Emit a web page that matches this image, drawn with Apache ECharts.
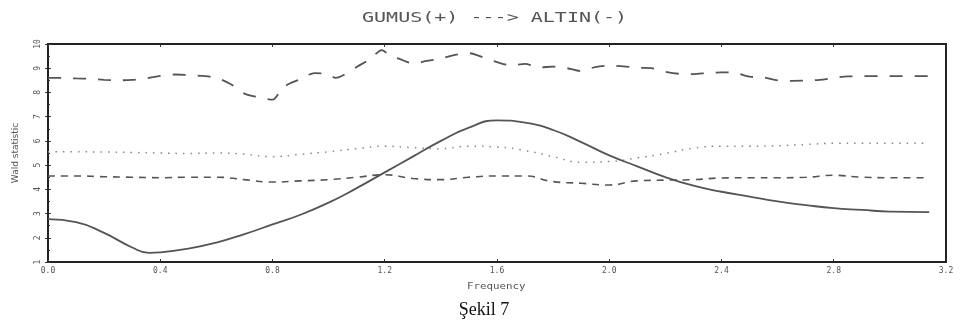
<!DOCTYPE html>
<html>
<head>
<meta charset="utf-8">
<script src="https://cdn.jsdelivr.net/npm/echarts@6/dist/echarts.min.js"></script>
<style>
  html, body { margin: 0; padding: 0; background: #fff; }
  #chart { width: 962px; height: 332px; }
</style>
</head>
<body>
<div id="chart"></div>
<script>
// Wald statistic over frequency, GUMUS -> ALTIN causality test
const xTicks = [0.0, 0.4, 0.8, 1.2, 1.6, 2.0, 2.4, 2.8, 3.2];
const yTicks = [1, 2, 3, 4, 5, 6, 7, 8, 9, 10];

// long-dashed upper band
const freqUpper = [0.00, 0.05, 0.10, 0.15, 0.20, 0.25, 0.30, 0.35, 0.40, 0.45, 0.50, 0.55, 0.60, 0.65, 0.70, 0.75, 0.80, 0.825, 0.85, 0.90, 0.95, 1.00, 1.025, 1.05, 1.10, 1.15, 1.19, 1.22, 1.25, 1.30, 1.35, 1.40, 1.45, 1.50, 1.55, 1.60, 1.65, 1.70, 1.75, 1.80, 1.85, 1.90, 1.95, 2.00, 2.05, 2.10, 2.15, 2.20, 2.25, 2.30, 2.35, 2.40, 2.45, 2.50, 2.55, 2.60, 2.65, 2.70, 2.75, 2.80, 2.85, 2.90, 3.00, 3.14];
const waldUpper = [8.60, 8.60, 8.58, 8.56, 8.52, 8.50, 8.52, 8.58, 8.68, 8.74, 8.72, 8.68, 8.60, 8.35, 7.95, 7.80, 7.70, 8.00, 8.30, 8.55, 8.80, 8.75, 8.60, 8.70, 9.05, 9.40, 9.75, 9.50, 9.40, 9.20, 9.30, 9.40, 9.55, 9.62, 9.45, 9.25, 9.12, 9.18, 9.03, 9.07, 9.00, 8.88, 9.05, 9.10, 9.08, 9.02, 9.00, 8.85, 8.77, 8.76, 8.80, 8.83, 8.80, 8.65, 8.62, 8.50, 8.48, 8.49, 8.52, 8.60, 8.66, 8.67, 8.67, 8.67];

// common frequency grid for the two lower bands
const freq = [0.0, 0.1, 0.2, 0.3, 0.4, 0.5, 0.6, 0.7, 0.8, 0.9, 1.0, 1.1, 1.2, 1.3, 1.4, 1.5, 1.6, 1.7, 1.8, 1.9, 2.0, 2.1, 2.2, 2.3, 2.4, 2.5, 2.6, 2.7, 2.8, 2.9, 3.0, 3.14];
// dotted critical value
const waldDotted = [5.55, 5.55, 5.54, 5.52, 5.50, 5.48, 5.50, 5.45, 5.35, 5.45, 5.55, 5.68, 5.78, 5.72, 5.68, 5.78, 5.75, 5.60, 5.35, 5.12, 5.15, 5.30, 5.48, 5.70, 5.78, 5.78, 5.80, 5.85, 5.90, 5.90, 5.90, 5.90];
// short-dashed critical value
const waldDashed = [4.55, 4.55, 4.52, 4.50, 4.48, 4.50, 4.50, 4.40, 4.30, 4.35, 4.40, 4.50, 4.60, 4.45, 4.40, 4.50, 4.55, 4.55, 4.32, 4.25, 4.18, 4.35, 4.38, 4.40, 4.47, 4.48, 4.48, 4.50, 4.58, 4.50, 4.48, 4.48];
// solid test statistic
const freqStat = [0.00, 0.10, 0.20, 0.30, 0.36, 0.40, 0.50, 0.60, 0.70, 0.80, 0.90, 1.00, 1.10, 1.20, 1.30, 1.40, 1.50, 1.60, 1.70, 1.80, 1.90, 2.00, 2.10, 2.20, 2.30, 2.40, 2.50, 2.60, 2.70, 2.80, 2.90, 3.00, 3.14];
const waldStat = [2.77, 2.65, 2.20, 1.60, 1.38, 1.40, 1.55, 1.80, 2.15, 2.55, 2.95, 3.45, 4.05, 4.70, 5.35, 6.00, 6.55, 6.85, 6.75, 6.45, 5.95, 5.40, 4.95, 4.50, 4.15, 3.90, 3.70, 3.50, 3.35, 3.22, 3.15, 3.08, 3.06];

const zip = (xs, ys) => xs.map((x, i) => [x, ys[i]]);

const chart = echarts.init(document.getElementById('chart'), null, { renderer: 'canvas' });
const tickFont = { fontFamily: 'DejaVu Sans Mono', fontSize: 8, color: '#555' };

chart.setOption({
  animation: false,
  backgroundColor: '#fff',
  graphic: [
    {
      // heading, wide mono lettering
      type: 'text', x: 362, y: 11, scaleX: 1.43,
      style: { text: 'GUMUS(+) ---> ALTIN(-)', font: '14px "DejaVu Sans Mono"', fill: '#555', textVerticalAlign: 'top' }
    },
    {
      type: 'text', x: 467, y: 282, scaleX: 1.2,
      style: { text: 'Frequency', font: '9px "DejaVu Sans Mono"', fill: '#555', textVerticalAlign: 'top' }
    },
    {
      type: 'text', x: 484, y: 301,
      style: { text: 'Şekil 7', font: '18px "Liberation Serif"', fill: '#111', textAlign: 'center', textVerticalAlign: 'top' }
    }
  ],
  grid: {
    left: 48, right: 16, top: 44, bottom: 70,
    show: true, borderColor: '#222', borderWidth: 2, backgroundColor: 'transparent'
  },
  xAxis: [
    {
      type: 'value', min: 0, max: 3.2, interval: 0.4, position: 'bottom',
      axisLine: { show: false },
      axisTick: { show: true, inside: true, length: 3, lineStyle: { color: '#333' } },
      splitLine: { show: false },
      axisLabel: Object.assign({ margin: 5, formatter: v => v.toFixed(1) }, tickFont)
    },
    {
      type: 'value', min: 0, max: 3.2, interval: 0.4, position: 'top',
      axisLine: { show: false },
      axisTick: { show: true, inside: true, length: 3, lineStyle: { color: '#333' } },
      splitLine: { show: false },
      axisLabel: { show: false }
    }
  ],
  yAxis: [
    {
      type: 'value', min: 1, max: 10, interval: 1, position: 'left',
      name: 'Wald statistic', nameLocation: 'middle', nameGap: 28, nameRotate: 90,
      nameTextStyle: { fontFamily: 'DejaVu Sans', fontSize: 9, color: '#555' },
      axisLine: { show: false },
      axisTick: { show: true, inside: true, length: 3, lineStyle: { color: '#333' } },
      minorTick: { show: true, splitNumber: 2, length: 2, lineStyle: { color: '#333' } },
      splitLine: { show: false },
      axisLabel: Object.assign({ margin: 6, rotate: 90 }, tickFont)
    },
    {
      type: 'value', min: 1, max: 10, interval: 1, position: 'right',
      axisLine: { show: false },
      axisTick: { show: true, inside: true, length: 3, lineStyle: { color: '#333' } },
      splitLine: { show: false },
      axisLabel: { show: false }
    }
  ],
  series: [
    {
      type: 'line', data: zip(freqUpper, waldUpper), smooth: 0.3, showSymbol: false,
      lineStyle: { color: '#555', width: 1.8, type: [13, 12] }
    },
    {
      type: 'line', data: zip(freq, waldDotted), smooth: true, showSymbol: false,
      lineStyle: { color: '#888', width: 1.5, type: [1.5, 6] }
    },
    {
      type: 'line', data: zip(freq, waldDashed), smooth: true, showSymbol: false,
      lineStyle: { color: '#555', width: 1.6, type: [7, 6] }
    },
    {
      type: 'line', data: zip(freqStat, waldStat), smooth: true, showSymbol: false,
      lineStyle: { color: '#555', width: 1.8, type: 'solid' }
    }
  ]
});
</script>
</body>
</html>
